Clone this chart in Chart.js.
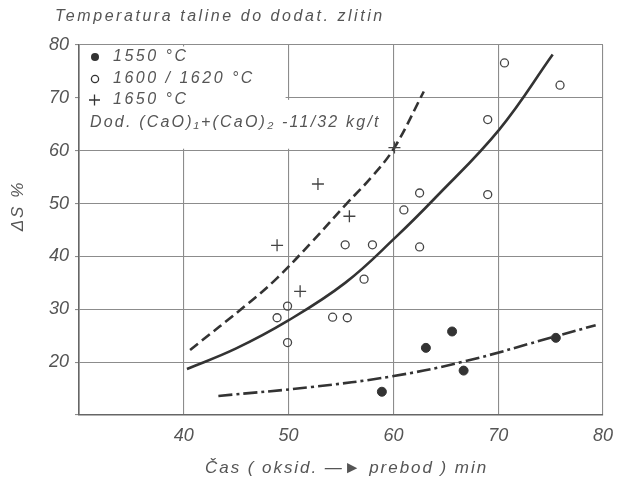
<!DOCTYPE html>
<html>
<head>
<meta charset="utf-8">
<script src="https://cdn.jsdelivr.net/npm/chart.js@4.4.1/dist/chart.umd.min.js"></script>
<style>
html,body{margin:0;padding:0;background:#fff;}
#wrap{width:618px;height:483px;position:relative;}
</style>
</head>
<body>
<div id="wrap"><canvas id="c" width="618" height="483"></canvas></div>
<script>
// ---- data ----
const title = "Temperatura taline do dodat. zlitin";
const xAxisTitle = "Čas ( oksid. —► prebod ) min";
const yAxisTitle = "ΔS %";
const legendLabels = ["1550 °C", "1600 / 1620 °C", "1650 °C"];
const legendNote = "Dod. (CaO)₁+(CaO)₂ -11/32 kg/t";

const xTickValues = [40, 50, 60, 70, 80];
const yTickValues = [20, 30, 40, 50, 60, 70, 80];

// 1550 °C (filled dots)
const t1550X = [58.9, 63.1, 65.6, 66.7, 75.5];
const t1550Y = [14.4, 22.7, 25.8, 18.4, 24.6];
// 1600/1620 °C (open circles)
const t1600X = [48.9, 49.9, 49.9, 54.2, 55.6, 55.4, 58.0, 57.2, 61.0, 62.5, 62.5, 69.0, 69.0, 70.6, 75.9];
const t1600Y = [28.4, 30.6, 23.7, 28.5, 28.4, 42.2, 42.2, 35.7, 48.8, 52.0, 41.8, 65.9, 51.7, 76.6, 72.4];
// 1650 °C (plus)
const t1650X = [48.9, 51.1, 52.8, 55.8, 60.1];
const t1650Y = [42.1, 33.4, 53.7, 47.6, 60.6];

// curves
const solidX = [40.3, 45.0, 49.9, 55.4, 60.2, 64.0, 70.1, 75.2];
const solidY = [18.7, 22.6, 27.8, 35.0, 43.6, 51.1, 64.0, 78.2];
const dashX = [40.6, 46.2, 48.9, 52.2, 55.5, 58.0, 60.1, 62.9];
const dashY = [22.3, 31.2, 35.9, 42.7, 49.9, 55.2, 60.6, 71.2];
const dotDashX = [43.3, 52.2, 59.8, 66.7, 75.5, 79.3];
const dotDashY = [13.6, 15.3, 17.3, 20.1, 24.9, 27.0];

const pts = (xs, ys) => xs.map((v, i) => ({x: v, y: ys[i]}));

const ink = '#333';
const textCol = '#555';
const FONT = 'Liberation Sans, Arial, sans-serif';

const custom = {
  id: 'custom',
  beforeDatasetsDraw(chart) {
    const ctx = chart.ctx;
    const xs = chart.scales.x, ys = chart.scales.y;
    const L = xs.getPixelForValue(30) + 1;
    const T = ys.getPixelForValue(80) + 1.5;
    const y60 = ys.getPixelForValue(60) - 2;
    const y70 = ys.getPixelForValue(70) + 2;
    const x50 = xs.getPixelForValue(50) - 3;
    const x60 = xs.getPixelForValue(60) - 3;
    ctx.save();
    ctx.fillStyle = '#fff';
    ctx.fillRect(L, T, x50 - L, y60 - T);
    ctx.fillRect(x50 - 1, y70, x60 - x50 + 1, y60 - y70);
    // legend markers
    ctx.fillStyle = ink; ctx.strokeStyle = ink; ctx.lineWidth = 1.3;
    ctx.beginPath(); ctx.arc(95, 57, 4, 0, Math.PI * 2); ctx.fill();
    ctx.beginPath(); ctx.arc(95, 79, 3.6, 0, Math.PI * 2); ctx.stroke();
    ctx.beginPath(); ctx.moveTo(89, 100); ctx.lineTo(100, 100); ctx.moveTo(94.5, 94.5); ctx.lineTo(94.5, 105.5); ctx.stroke();
    // legend text
    ctx.fillStyle = textCol;
    ctx.font = 'italic 16px ' + FONT;
    ctx.textBaseline = 'middle';
    ctx.textAlign = 'left';
    ctx.letterSpacing = '2.5px';
    ctx.fillText(legendLabels[0], 113, 57);
    ctx.fillText(legendLabels[1], 113, 79);
    ctx.fillText(legendLabels[2], 113, 100);
    ctx.letterSpacing = '2.2px';
    ctx.fillText(legendNote, 90, 123);
    ctx.restore();
  },
  afterDraw(chart) {
    const ctx = chart.ctx;
    ctx.save();
    ctx.fillStyle = textCol;
    ctx.textBaseline = 'middle';
    ctx.textAlign = 'left';
    ctx.font = 'italic 16px ' + FONT;
    ctx.letterSpacing = '2.55px';
    ctx.fillText(title, 55, 17);
    ctx.font = 'italic 17px ' + FONT;
    ctx.letterSpacing = '1.95px';
    ctx.fillText(xAxisTitle, 205, 468);
    ctx.translate(18, 206);
    ctx.rotate(-Math.PI / 2);
    ctx.textAlign = 'center';
    ctx.letterSpacing = '2px';
    ctx.fillText(yAxisTitle, 0, 0);
    ctx.restore();
  }
};

new Chart(document.getElementById('c'), {
  type: 'scatter',
  data: {
    datasets: [
      {label: legendLabels[0], data: pts(t1550X, t1550Y), pointStyle: 'circle', pointRadius: 4.5,
       backgroundColor: ink, borderColor: ink, borderWidth: 1, showLine: false},
      {label: legendLabels[1], data: pts(t1600X, t1600Y), pointStyle: 'circle', pointRadius: 4,
       backgroundColor: 'rgba(0,0,0,0)', borderColor: '#444', borderWidth: 1.3, showLine: false},
      {label: legendLabels[2], data: pts(t1650X, t1650Y), pointStyle: 'cross', pointRadius: 6,
       borderColor: '#444', borderWidth: 1.3, showLine: false},
      {label: 'solid', data: pts(solidX, solidY), showLine: true, pointRadius: 0,
       borderColor: ink, borderWidth: 2.6, tension: 0.4},
      {label: 'dashed', data: pts(dashX, dashY), showLine: true, pointRadius: 0,
       borderColor: ink, borderWidth: 2.6, borderDash: [10, 5], tension: 0.4},
      {label: 'dotdash', data: pts(dotDashX, dotDashY), showLine: true, pointRadius: 0,
       borderColor: ink, borderWidth: 2.6, borderDash: [14, 4, 3, 4], tension: 0.4}
    ]
  },
  options: {
    responsive: false,
    animation: false,
    events: [],
    layout: {padding: {top: 45, right: 15, left: 0, bottom: 0}},
    plugins: {legend: {display: false}, tooltip: {enabled: false}, title: {display: false}},
    scales: {
      x: {
        type: 'linear', min: 30, max: 80,
        afterFit(s) { s.height = 68; s.paddingLeft = 0; s.paddingRight = 0; },
        afterBuildTicks(s) { s.ticks = [30].concat(xTickValues).map(v => ({value: v})); },
        ticks: {
          padding: 10, color: textCol, maxRotation: 0,
          font: {family: FONT, size: 18, style: 'italic'},
          callback: v => (xTickValues.includes(v) ? String(v) : '')
        },
        grid: {color: '#8c8c8c', lineWidth: 1.1, drawTicks: false},
        border: {color: '#666', width: 1.6}
      },
      y: {
        type: 'linear', min: 10, max: 80,
        afterFit(s) { s.width = 79; s.paddingTop = 0; s.paddingBottom = 0; },
        afterBuildTicks(s) { s.ticks = [10].concat(yTickValues).map(v => ({value: v})); },
        ticks: {
          padding: 6, color: textCol,
          font: {family: FONT, size: 18, style: 'italic'},
          callback: v => (yTickValues.includes(v) ? String(v) : '')
        },
        grid: {color: '#8c8c8c', lineWidth: 1.1, drawTicks: true, tickLength: 4},
        border: {color: '#666', width: 1.6}
      }
    }
  },
  plugins: [custom]
});
</script>
</body>
</html>
